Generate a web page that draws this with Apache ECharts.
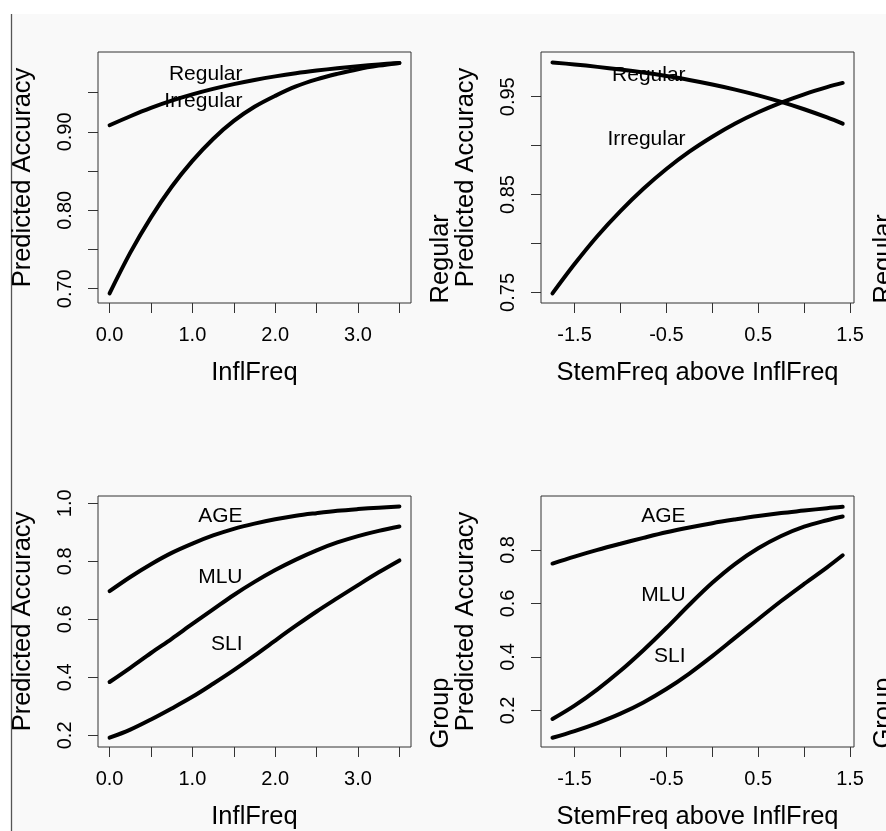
<!DOCTYPE html>
<html>
<head>
<meta charset="utf-8">
<script src="https://cdn.jsdelivr.net/npm/echarts@6/dist/echarts.min.js"></script>
<style>
  html, body { margin: 0; padding: 0; background: #ffffff; }
  #chart { width: 886px; height: 831px; }
</style>
</head>
<body>
<div id="chart"></div>
<script>
// Predictor values (x) for the two kinds of panels
const infl = [0, 0.25, 0.5, 0.75, 1, 1.25, 1.5, 1.75, 2, 2.25, 2.5, 2.75, 3, 3.25, 3.5];
const stem = [-1.74, -1.5, -1.25, -1, -0.75, -0.5, -0.25, 0, 0.25, 0.5, 0.75, 1, 1.25, 1.42];

// Predicted accuracy by regularity
const inflRegular   = [0.9085, 0.920, 0.9306, 0.9398, 0.9478, 0.9548, 0.9609, 0.9662, 0.9708, 0.9748, 0.9782, 0.9812, 0.9838, 0.9860, 0.9880];
const inflIrregular = [0.694, 0.746, 0.791, 0.830, 0.863, 0.891, 0.914, 0.932, 0.946, 0.958, 0.967, 0.974, 0.980, 0.9845, 0.988];
const stemRegular   = [0.985, 0.983, 0.9805, 0.9778, 0.9747, 0.9711, 0.9671, 0.9625, 0.9573, 0.9514, 0.9447, 0.9372, 0.9288, 0.9225];
const stemIrregular = [0.749, 0.779, 0.8077, 0.8331, 0.8559, 0.8761, 0.8938, 0.9091, 0.9226, 0.9341, 0.944, 0.9525, 0.9598, 0.9641];

// Predicted accuracy by group
const inflAge = [0.697, 0.746, 0.790, 0.829, 0.861, 0.889, 0.912, 0.930, 0.945, 0.957, 0.966, 0.974, 0.980, 0.985, 0.989];
const inflMlu = [0.384, 0.433, 0.484, 0.533, 0.584, 0.634, 0.684, 0.729, 0.770, 0.806, 0.838, 0.865, 0.887, 0.905, 0.920];
const inflSli = [0.192, 0.220, 0.255, 0.293, 0.333, 0.378, 0.425, 0.475, 0.527, 0.578, 0.627, 0.673, 0.718, 0.762, 0.803];
const stemAge = [0.749, 0.775, 0.800, 0.823, 0.845, 0.866, 0.884, 0.900, 0.914, 0.927, 0.938, 0.947, 0.956, 0.961];
const stemMlu = [0.168, 0.218, 0.279, 0.348, 0.425, 0.508, 0.595, 0.677, 0.748, 0.806, 0.852, 0.887, 0.911, 0.925];
const stemSli = [0.098, 0.123, 0.153, 0.188, 0.230, 0.280, 0.338, 0.403, 0.472, 0.541, 0.609, 0.673, 0.735, 0.780];

// Tick positions and labelled ticks
const inflTicks  = [0, 0.5, 1, 1.5, 2, 2.5, 3, 3.5];
const inflLabels = [0, 1, 2, 3];
const stemTicks  = [-1.5, -1, -0.5, 0, 0.5, 1, 1.5];
const stemLabels = [-1.5, -0.5, 0.5, 1.5];
const regInflTicks  = [0.70, 0.75, 0.80, 0.85, 0.90, 0.95];
const regInflLabels = [0.70, 0.80, 0.90];
const regStemTicks  = [0.75, 0.80, 0.85, 0.90, 0.95];
const regStemLabels = [0.75, 0.85, 0.95];
const grpInflTicks  = [0.2, 0.4, 0.6, 0.8, 1.0];
const grpStemTicks  = [0.2, 0.4, 0.6, 0.8];

// Curve names written inside each panel
const regularityNames = ['Regular', 'Irregular'];
const groupNames = ['AGE', 'MLU', 'SLI'];

const FONT = '"Liberation Sans", Arial, Helvetica, sans-serif';
const INK = '#000000';
const FRAME = '#333333';

// Panel layout: plot boxes and scale limits
const panels = [
  { left: 98,  top: 52,  xmin: -0.14, xmax: 3.64, ymin: 0.6818, ymax: 1.0019,
    xTicks: inflTicks, xLabels: inflLabels, xDigits: 1, xName: 'InflFreq',
    yTicks: regInflTicks, yLabels: regInflLabels, yDigits: 2 },
  { left: 541, top: 52,  xmin: -1.865, xmax: 1.543, ymin: 0.7392, ymax: 0.9957,
    xTicks: stemTicks, xLabels: stemLabels, xDigits: 1, xName: 'StemFreq above InflFreq',
    yTicks: regStemTicks, yLabels: regStemLabels, yDigits: 2 },
  { left: 98,  top: 496, xmin: -0.14, xmax: 3.64, ymin: 0.160, ymax: 1.0251,
    xTicks: inflTicks, xLabels: inflLabels, xDigits: 1, xName: 'InflFreq',
    yTicks: grpInflTicks, yLabels: grpInflTicks, yDigits: 1 },
  { left: 541, top: 496, xmin: -1.865, xmax: 1.543, ymin: 0.0633, ymax: 1.0016,
    xTicks: stemTicks, xLabels: stemLabels, xDigits: 1, xName: 'StemFreq above InflFreq',
    yTicks: grpStemTicks, yLabels: grpStemTicks, yDigits: 1 }
];
const BOX_W = 313, BOX_H = 251;

// Where each curve name sits (x of its right-hand anchor, y level)
const nameSpots = [
  { x: 1.75,  y: [0.9732, 0.9388] },
  { x: -0.16, y: [0.9718, 0.907] },
  { x: 1.75,  y: [0.9546, 0.7453, 0.514] },
  { x: -0.16, y: [0.9246, 0.629, 0.403] }
];

const curves = [
  { x: infl, ys: [inflRegular, inflIrregular], names: regularityNames },
  { x: stem, ys: [stemRegular, stemIrregular], names: regularityNames },
  { x: infl, ys: [inflAge, inflMlu, inflSli], names: groupNames },
  { x: stem, ys: [stemAge, stemMlu, stemSli], names: groupNames }
];

const pairs = (xs, ys) => xs.map((v, i) => [v, ys[i]]);

const grid = panels.map(p => ({
  left: p.left, top: p.top, width: BOX_W, height: BOX_H,
  show: true, borderColor: FRAME, borderWidth: 1, backgroundColor: 'transparent'
}));

const xAxis = panels.map((p, i) => ({
  type: 'value', gridIndex: i, min: p.xmin, max: p.xmax, position: 'bottom',
  axisLine: { show: false, onZero: false }, splitLine: { show: false },
  axisTick: { show: true, length: 10, customValues: p.xTicks, lineStyle: { color: FRAME, width: 1 } },
  axisLabel: {
    customValues: p.xLabels, margin: 22, fontSize: 20, lineHeight: 20,
    color: INK, fontFamily: FONT, formatter: v => Number(v).toFixed(p.xDigits)
  },
  name: p.xName, nameLocation: 'middle', nameGap: 57,
  nameTextStyle: { fontSize: 25.5, lineHeight: 26, color: INK, fontFamily: FONT }
}));

const yAxis = panels.map((p, i) => ({
  type: 'value', gridIndex: i, min: p.ymin, max: p.ymax, position: 'left',
  axisLine: { show: false, onZero: false }, splitLine: { show: false },
  axisTick: { show: true, length: 10, customValues: p.yTicks, lineStyle: { color: FRAME, width: 1 } },
  axisLabel: {
    customValues: p.yLabels, rotate: 90, margin: 22.5, fontSize: 20, lineHeight: 20,
    color: INK, fontFamily: FONT, formatter: v => Number(v).toFixed(p.yDigits)
  },
  name: 'Predicted Accuracy', nameLocation: 'middle', nameGap: 62, nameRotate: 90,
  nameTextStyle: { fontSize: 25.5, lineHeight: 26, color: INK, fontFamily: FONT }
}));

const series = [];
curves.forEach((c, i) => {
  c.ys.forEach((ys, k) => {
    series.push({
      type: 'line', name: c.names[k], xAxisIndex: i, yAxisIndex: i,
      data: pairs(c.x, ys), showSymbol: false, smooth: 0.35,
      lineStyle: { color: '#000000', width: 4, cap: 'round', join: 'round' },
      silent: true, z: 3
    });
  });
  series.push({
    type: 'scatter', xAxisIndex: i, yAxisIndex: i, symbolSize: 0, silent: true, z: 4,
    data: c.names.map((n, k) => [nameSpots[i].x, nameSpots[i].y[k], n]),
    label: {
      show: true, position: 'left', distance: 12, formatter: d => d.value[2],
      fontSize: 21, color: INK, opacity: 1, fontFamily: FONT
    }
  });
});

// Outer y-axis captions (factor names) on the second column and the next, clipped column
const outerText = (x, y, text) => ({
  type: 'text', x: x, y: y, rotation: Math.PI / 2, silent: true,
  style: { text: text, fontSize: 25.5, fontFamily: FONT, fill: INK, align: 'left', verticalAlign: 'middle' }
});

const chart = echarts.init(document.getElementById('chart'), null, { renderer: 'canvas' });
chart.setOption({
  animation: false,
  backgroundColor: '#f9f9f9',
  grid: grid,
  xAxis: xAxis,
  yAxis: yAxis,
  series: series,
  graphic: [
    { type: 'rect', shape: { x: 0, y: 0, width: 886, height: 14 }, style: { fill: '#ffffff' }, silent: true },
    { type: 'rect', shape: { x: 0, y: 0, width: 11, height: 831 }, style: { fill: '#ffffff' }, silent: true },
    { type: 'line', shape: { x1: 11.5, y1: 14, x2: 11.5, y2: 831 }, style: { stroke: '#555555', lineWidth: 1.3 }, silent: true },
    outerText(440.5, 303.5, 'Regular'),
    outerText(440.5, 748.5, 'Group'),
    outerText(883.5, 303.5, 'Regular'),
    outerText(883.5, 748.5, 'Group')
  ]
});
</script>
</body>
</html>
